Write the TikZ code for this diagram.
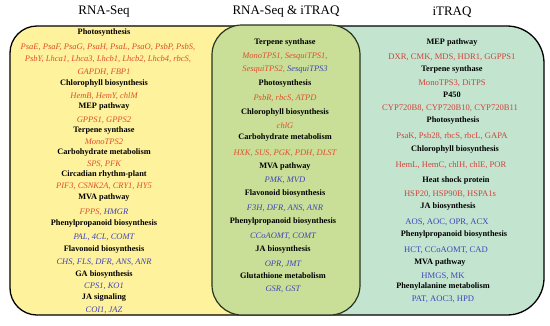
\documentclass[tikz,border=0pt]{standalone}
\usepackage{fontspec}
\setmainfont{Liberation Serif}
\usepackage{xcolor}
\usepackage{tikz}
\usetikzlibrary{positioning}
\definecolor{seqyellow}{HTML}{FFF29C}
\definecolor{itraqgreen}{HTML}{C3E5D0}
\definecolor{bothgreen}{HTML}{C9DF98}
\definecolor{boxline}{HTML}{2A3320}
\definecolor{genered}{HTML}{DE4E2C}
\definecolor{protred}{HTML}{D24238}
\definecolor{geneblue}{HTML}{3F44B8}
\tikzset{
  title/.style={font=\fontsize{13}{15}\selectfont, inner sep=0pt},
  pathway/.style={font=\bfseries\fontsize{8.3}{10}\selectfont, inner sep=0pt},
  gene/.style={font=\itshape\fontsize{8.5}{10}\selectfont, inner sep=0pt},
  generd/.style={gene, text=genered},
  genebl/.style={gene, text=geneblue},
  protrd/.style={font=\fontsize{8.6}{10}\selectfont, inner sep=0pt, text=protred},
  protbl/.style={font=\fontsize{8.6}{10}\selectfont, inner sep=0pt, text=geneblue},
  panel/.style={draw=black, line width=1.3pt},
  overlap/.style={draw=boxline, line width=1.2pt, fill=bothgreen, rounded corners=30pt}
}
\begin{document}
\begin{tikzpicture}[x=1pt, y=-1pt]
  \useasboundingbox (0,0) rectangle (550,325);
  % the two outer panels, the shared one on top
  \draw[panel, fill=seqyellow, rounded corners=27pt] (286,26) -- (10,26) -- (10,315) -- (286,315);
  \draw[panel, fill=itraqgreen, rounded corners=37pt] (286,26) -- (544,26) -- (544,315) -- (286,315);
  \draw[overlap] (212,25) rectangle (360,315);

  \node[title] (tseq) at (104,12) {RNA-Seq};
  \node[title] (tboth) at (286,12) {RNA-Seq \& iTRAQ};
  \node[title] (titraq) at (452,12) {iTRAQ};

  % RNA-Seq only
  \node[pathway] (s1) at (104,33) {Photosynthesis};
  \node[generd] (s2) at (108,47) {PsaE, PsaF, PsaG, PsaH, PsaL, PsaO, PsbP, PsbS,};
  \node[generd] (s3) at (108,59) {PsbY, Lhca1, Lhca3, Lhcb1, Lhcb2, Lhcb4, rbcS,};
  \node[generd] (s4) at (104,72) {GAPDH, FBP1};
  \node[pathway] (s5) at (104,84) {Chlorophyll biosynthesis};
  \node[generd] (s6) at (104,96) {HemB, HemY, chlM};
  \node[pathway] (s7) at (104,107) {MEP pathway};
  \node[generd] (s8) at (104,120) {GPPS1, GPPS2};
  \node[pathway] (s9) at (104,131) {Terpene synthase};
  \node[generd] (s10) at (104,142) {MonoTPS2};
  \node[pathway] (s11) at (104,153) {Carbohydrate metabolism};
  \node[generd] (s12) at (104,164) {SPS, PFK};
  \node[pathway] (s13) at (104,175) {Circadian rhythm-plant};
  \node[generd] (s14) at (104,186) {PIF3, CSNK2A, CRY1, HY5};
  \node[pathway] (s15) at (104,198) {MVA pathway};
  \node[generd] (s16) at (104,212) {FPPS, \textcolor{geneblue}{HMGR}};
  \node[pathway] (s17) at (104,224) {Phenylpropanoid biosynthesis};
  \node[genebl] (s18) at (104,237) {PAL, 4CL, COMT};
  \node[pathway] (s19) at (104,250) {Flavonoid biosynthesis};
  \node[genebl] (s20) at (104,262) {CHS, FLS, DFR, ANS, ANR};
  \node[pathway] (s21) at (104,275) {GA biosynthesis};
  \node[genebl] (s22) at (104,286) {CPS1, KO1};
  \node[pathway] (s23) at (104,298) {JA signaling};
  \node[genebl] (s24) at (104,310) {COI1, JAZ};

  % both
  \node[pathway] (b1) at (285,43) {Terpene synthase};
  \node[generd] (b2) at (285,57) {MonoTPS1, SesquiTPS1,};
  \node[generd] (b3) at (285,70) {SesquiTPS2, \textcolor{geneblue}{SesquiTPS3}};
  \node[pathway] (b4) at (285,84) {Photosynthesis};
  \node[generd] (b5) at (285,98) {PsbR, rbcS, ATPD};
  \node[pathway] (b6) at (285,113) {Chlorophyll biosynthesis};
  \node[generd] (b7) at (285,126) {chlG};
  \node[pathway] (b8) at (285,138) {Carbohydrate metabolism};
  \node[generd] (b9) at (285,153) {HXK, SUS, PGK, PDH, DLST};
  \node[pathway] (b10) at (285,167) {MVA pathway};
  \node[genebl] (b11) at (285,180) {PMK, MVD};
  \node[pathway] (b12) at (285,194) {Flavonoid biosynthesis};
  \node[genebl] (b13) at (285,208) {F3H, DFR, ANS, ANR};
  \node[pathway] (b14) at (283,222) {Phenylpropanoid biosynthesis};
  \node[genebl] (b15) at (283,236) {CCoAOMT, COMT};
  \node[pathway] (b16) at (283,250) {JA biosynthesis};
  \node[genebl] (b17) at (283,264) {OPR, JMT};
  \node[pathway] (b18) at (283,276) {Glutathione metabolism};
  \node[genebl] (b19) at (283,289) {GSR, GST};

  % iTRAQ only
  \node[pathway] (q1) at (452,43) {MEP pathway};
  \node[protrd] (q2) at (452,57) {DXR, CMK, MDS, HDR1, GGPPS1};
  \node[pathway] (q3) at (452,70) {Terpene synthase};
  \node[protrd] (q4) at (452,83) {MonoTPS3, DiTPS};
  \node[pathway] (q5) at (452,95) {P450};
  \node[protrd] (q6) at (450,108) {CYP720B8, CYP720B10, CYP720B11};
  \node[pathway] (q7) at (453,121) {Photosynthesis};
  \node[protrd] (q8) at (452,136) {PsaK, Psb28, rbcS, rbcL, GAPA};
  \node[pathway] (q9) at (455,150) {Chlorophyll biosynthesis};
  \node[protrd] (q10) at (451,165) {HemL, HemC, chlH, chlE, POR};
  \node[pathway] (q11) at (456,180) {Heat shock protein};
  \node[protrd] (q12) at (450,194) {HSP20, HSP90B, HSPA1s};
  \node[pathway] (q13) at (448,207) {JA biosynthesis};
  \node[protbl] (q14) at (447,222) {AOS, AOC, OPR, ACX};
  \node[pathway] (q15) at (454,235) {Phenylpropanoid biosynthesis};
  \node[protbl] (q16) at (446,250) {HCT, CCoAOMT, CAD};
  \node[pathway] (q17) at (440,263) {MVA pathway};
  \node[protbl] (q18) at (443,276) {HMGS, MK};
  \node[pathway] (q19) at (443,287) {Phenylalanine metabolism};
  \node[protbl] (q20) at (443,299) {PAT, AOC3, HPD};
\end{tikzpicture}
\end{document}
